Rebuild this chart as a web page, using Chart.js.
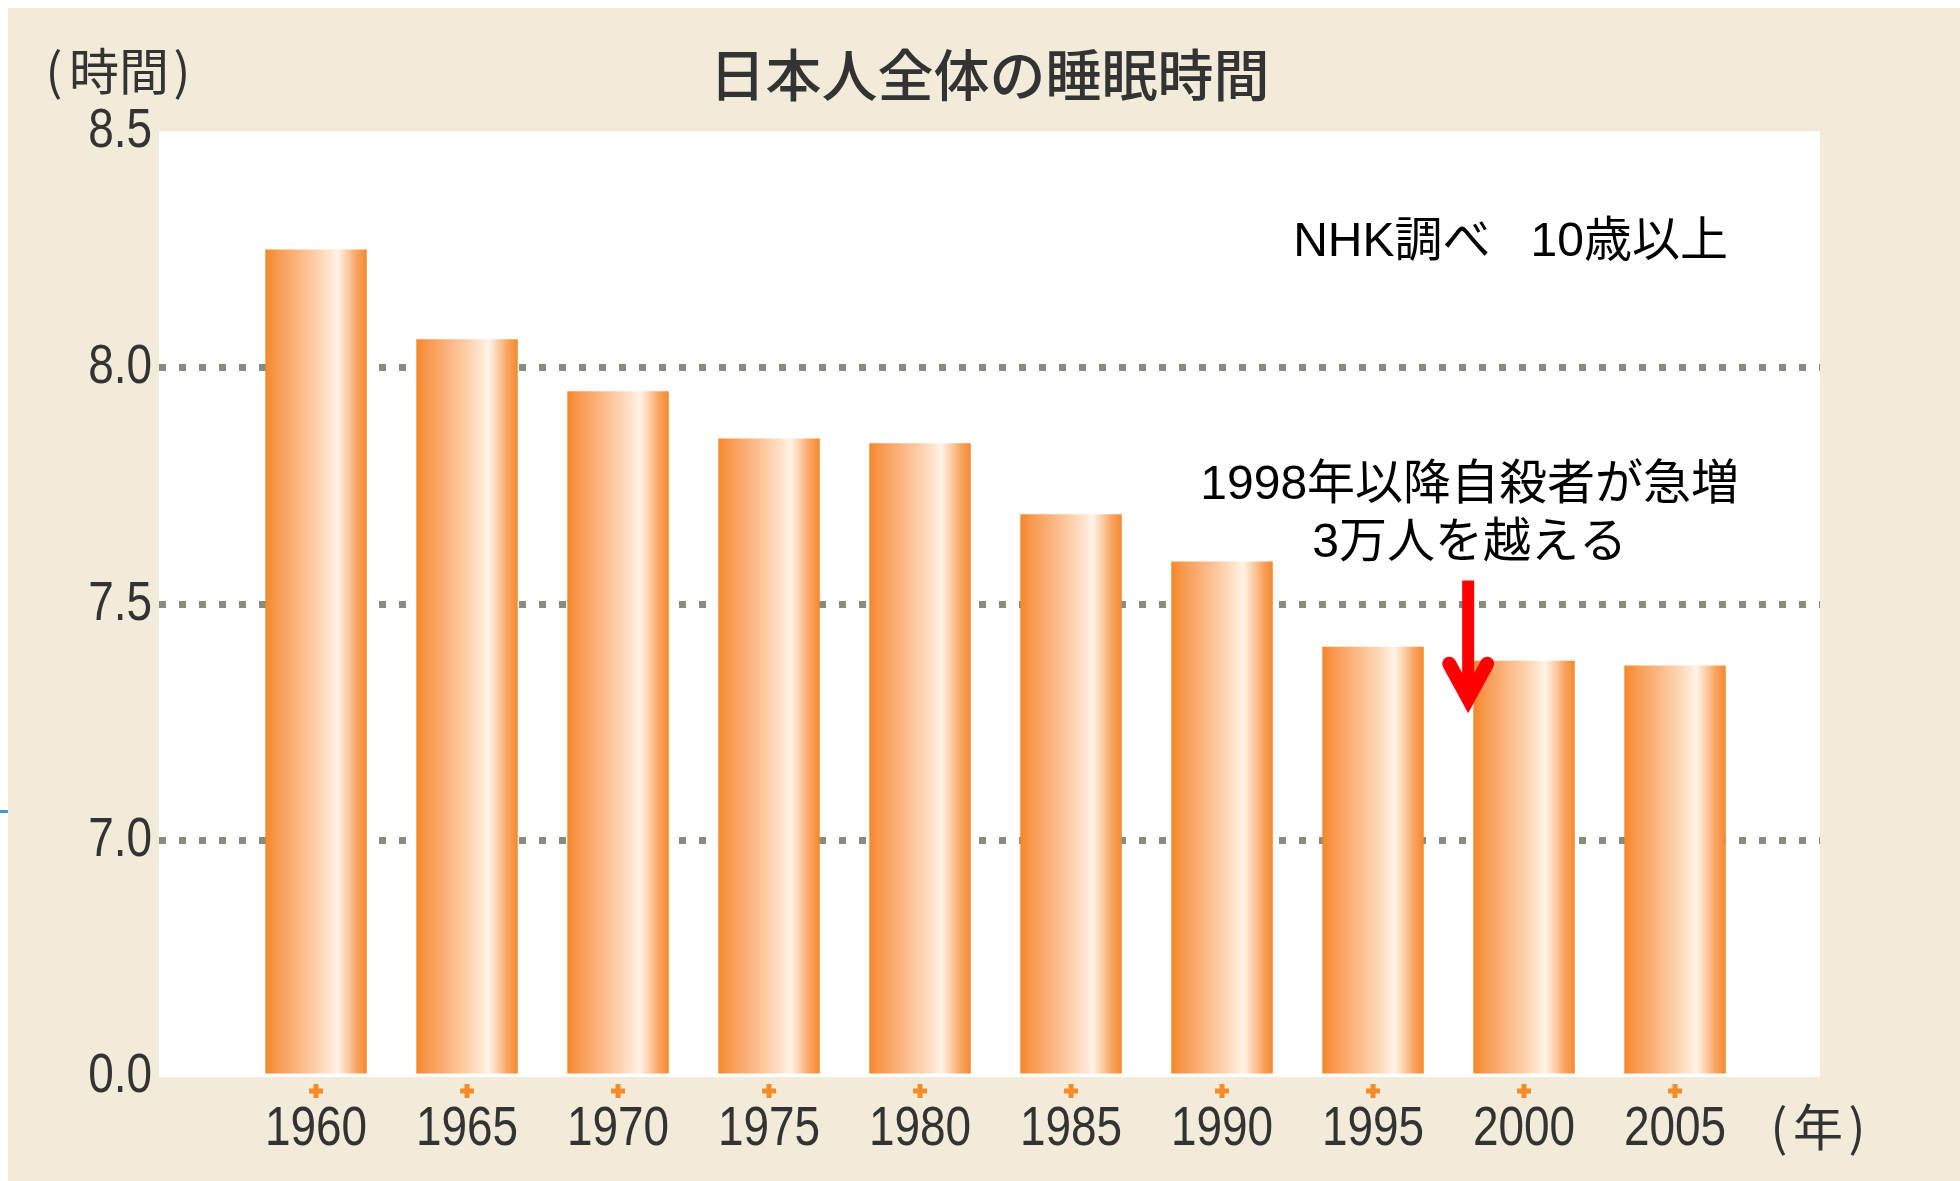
<!DOCTYPE html>
<html lang="ja">
<head>
<meta charset="UTF-8">
<title>日本人全体の睡眠時間</title>
<script src="https://cdn.jsdelivr.net/npm/chart.js@4.4.0/dist/chart.umd.min.js"></script>
<style>
  html, body { margin: 0; padding: 0; background: #fff; }
  canvas { display: block; }
</style>
</head>
<body>
<canvas id="myChart" width="1960" height="1181"></canvas>
<script>
  // data
  const years = [1960, 1965, 1970, 1975, 1980, 1985, 1990, 1995, 2000, 2005];
  const sleepHours = [8.25, 8.06, 7.95, 7.85, 7.84, 7.69, 7.59, 7.41, 7.38, 7.37];
  // the axis is broken: the lowest tick stands for 0.0
  const yTickValues = [6.5, 7.0, 7.5, 8.0, 8.5];
  const yTickLabels = ['0.0', '7.0', '7.5', '8.0', '8.5'];
  const gridValues = [7.0, 7.5, 8.0];

  const titleText = '日本人全体の睡眠時間';
  const yUnit = '時間';
  const xUnit = '年';
  const sourceNote = 'NHK調べ   10歳以上';
  const eventNote = ['1998年以降自殺者が急増', '3万人を越える'];
  const eventYear = 1998;

  const latin = '"Liberation Sans", Arial, sans-serif';
  const jp = '"Noto Sans CJK JP", "Noto Sans", sans-serif';
  const barPct = 0.672;
  const squeeze = 0.82; // the original tick font is a narrow one

  function barGradient(c) {
    const chart = c.chart;
    const xs = chart.scales.x;
    if (!xs || c.type !== 'data') return '#f68b2a';
    const cx = xs.getPixelForValue(years[c.dataIndex]);
    const w = (xs.getPixelForValue(years[1]) - xs.getPixelForValue(years[0])) * barPct;
    if (!isFinite(cx) || !isFinite(w) || w <= 0) return '#f68b2a';
    const g = chart.ctx.createLinearGradient(cx - w / 2, 0, cx + w / 2, 0);
    g.addColorStop(0, '#f5872a');
    g.addColorStop(0.1, '#f7974a');
    g.addColorStop(0.3, '#fbb27c');
    g.addColorStop(0.5, '#fdd0aa');
    g.addColorStop(0.64, '#ffe6d1');
    g.addColorStop(0.71, '#fff3e8');
    g.addColorStop(0.8, '#fdd0ab');
    g.addColorStop(0.9, '#f9a461');
    g.addColorStop(1, '#f5892d');
    return g;
  }

  function narrowText(ctx, text, x, y, align) {
    ctx.save();
    ctx.translate(x, y);
    ctx.scale(squeeze, 1);
    ctx.textAlign = align;
    ctx.fillText(text, 0, 0);
    ctx.restore();
  }

  const decor = {
    id: 'decor',
    beforeDraw(chart) {
      const { ctx, chartArea: a, width, height } = chart;
      ctx.save();
      ctx.fillStyle = '#ffffff';
      ctx.fillRect(0, 0, width, height);
      ctx.fillStyle = '#f2ebda';
      ctx.fillRect(8, 8, width - 8, height - 8);
      ctx.fillStyle = '#3b9bd8';
      ctx.fillRect(0, 810, 8, 3);
      ctx.fillStyle = '#ffffff';
      ctx.fillRect(a.left, a.top, a.right - a.left, a.bottom - a.top);
      ctx.restore();
    },
    afterDraw(chart) {
      const { ctx, chartArea: a } = chart;
      const xs = chart.scales.x, ys = chart.scales.y;
      ctx.save();

      // little "+" marks under each bar
      ctx.strokeStyle = '#f68b2a';
      ctx.lineWidth = 5;
      xs.ticks.forEach((t, i) => {
        const px = xs.getPixelForTick(i);
        const py = a.bottom + 14;
        ctx.beginPath();
        ctx.moveTo(px - 7, py); ctx.lineTo(px + 7, py);
        ctx.moveTo(px, py - 7); ctx.lineTo(px, py + 7);
        ctx.stroke();
      });

      // tick labels, squeezed
      ctx.fillStyle = '#333';
      ctx.textBaseline = 'middle';
      ctx.font = '56px ' + latin;
      xs.ticks.forEach((t, i) => {
        narrowText(ctx, t.label, xs.getPixelForTick(i), a.bottom + 53, 'center');
      });
      ys.ticks.forEach((t, i) => {
        narrowText(ctx, t.label, a.left - 7, ys.getPixelForTick(i), 'right');
      });

      // unit labels
      ctx.textAlign = 'center';
      ctx.font = '50px ' + jp;
      ctx.fillText('(', 54, 71);
      ctx.fillText(yUnit, 119, 71);
      ctx.fillText(')', 182, 71);
      const uy = a.bottom + 50;
      ctx.fillText('(', a.right - 41, uy);
      ctx.fillText(xUnit, a.right - 2, uy);
      ctx.fillText(')', a.right + 37, uy);

      // notes
      ctx.fillStyle = '#000';
      ctx.font = '48px "Liberation Sans", ' + jp;
      ctx.textAlign = 'right';
      ctx.fillText(sourceNote, xs.getPixelForValue(2006.75), ys.getPixelForValue(8.264));
      ctx.textAlign = 'center';
      const nx = xs.getPixelForValue(eventYear + 0.2);
      ctx.fillText(eventNote[0], nx, ys.getPixelForValue(7.75));
      ctx.fillText(eventNote[1], nx, ys.getPixelForValue(7.628));

      // red arrow
      const ax = xs.getPixelForValue(eventYear + 0.15);
      const top = ys.getPixelForValue(7.55);
      const tip = ys.getPixelForValue(7.30);
      ctx.strokeStyle = '#ff0000';
      ctx.lineWidth = 12;
      ctx.lineCap = 'butt';
      ctx.beginPath();
      ctx.moveTo(ax, top); ctx.lineTo(ax, tip);
      ctx.stroke();
      ctx.lineWidth = 14;
      ctx.lineCap = 'round';
      ctx.lineJoin = 'miter';
      ctx.beginPath();
      ctx.moveTo(ax - 19, tip - 35); ctx.lineTo(ax, tip); ctx.lineTo(ax + 19, tip - 35);
      ctx.stroke();

      ctx.restore();
    }
  };

  const ctx = document.getElementById('myChart');
  const chart = new Chart(ctx, {
    type: 'bar',
    data: {
      datasets: [{
        data: years.map((y, i) => ({ x: y, y: sleepHours[i] })),
        base: 6.5,
        backgroundColor: barGradient,
        borderWidth: 0,
        categoryPercentage: 1,
        barPercentage: barPct
      }]
    },
    options: {
      responsive: false,
      animation: false,
      events: [],
      layout: { padding: { top: 0, left: 0, right: 140, bottom: 0 } },
      plugins: {
        legend: { display: false },
        tooltip: { enabled: false },
        title: {
          display: true,
          text: titleText,
          fullSize: false,
          color: '#333',
          font: { family: jp, size: 56, weight: '500' },
          padding: { top: 41, bottom: 23 }
        }
      },
      scales: {
        x: {
          type: 'linear',
          offset: false,
          min: 1954.8,
          max: 2009.8,
          afterBuildTicks: s => { s.ticks = years.map(v => ({ value: v })); },
          afterFit: s => { s.height = 104; },
          grid: { display: false, drawTicks: false },
          border: { display: false },
          ticks: {
            padding: 19,
            color: 'rgba(0,0,0,0)',
            font: { family: latin, size: 56 },
            callback: v => String(v)
          }
        },
        y: {
          min: 6.5,
          max: 8.5,
          afterBuildTicks: s => { s.ticks = yTickValues.map(v => ({ value: v })); },
          afterFit: s => { s.width = 159; },
          border: { display: false, dash: [7, 13] },
          grid: {
            drawTicks: false,
            lineWidth: 7,
            color: c => gridValues.includes(c.tick && c.tick.value) ? '#8b8b7d' : 'rgba(0,0,0,0)'
          },
          ticks: {
            padding: 8,
            color: 'rgba(0,0,0,0)',
            font: { family: latin, size: 56 },
            callback: v => yTickLabels[yTickValues.indexOf(v)]
          }
        }
      }
    },
    plugins: [decor]
  });
</script>
</body>
</html>
